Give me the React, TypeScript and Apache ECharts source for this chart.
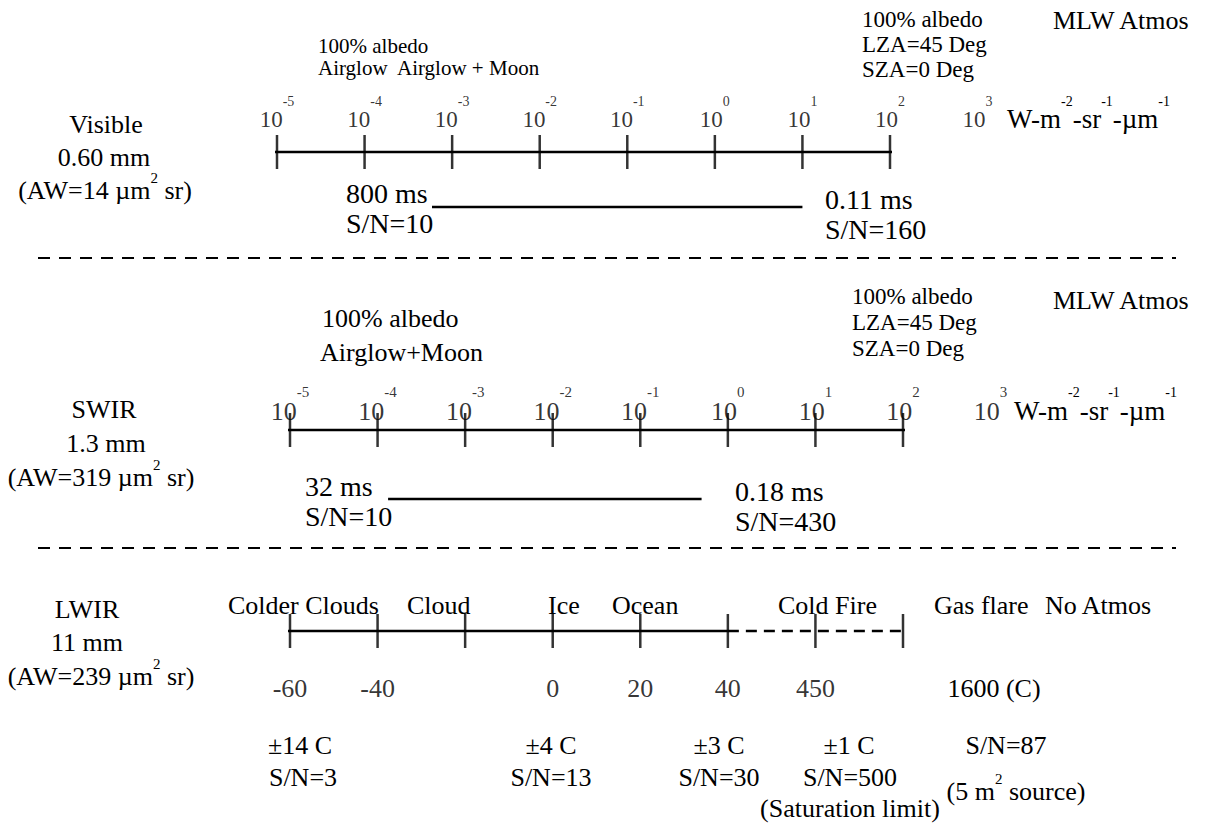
import React, { useEffect, useRef } from 'react';
import * as echarts from 'echarts';

const FONT = 'Liberation Serif, Times New Roman, serif';

// ---- Visible band: radiance decades (10^n W-m-2-sr-1-um-1)
const VIS_LABEL_EXP = [-5, -4, -3, -2, -1, 0, 1, 2, 3];
const VIS_TICK_EXP = [-5, -4, -3, -2, -1, 0, 1, 2];
const VIS_AXIS_RANGE = [-6.08, 3];
const VIS_EXPOSURE = [-3.23, 1.0];

// ---- SWIR band
const SWIR_LABEL_EXP = [-5, -4, -3, -2, -1, 0, 1, 2, 3];
const SWIR_TICK_EXP = [-5, -4, -3, -2, -1, 0, 1, 2];
const SWIR_AXIS_RANGE = [-6.07, 3.03];
const SWIR_EXPOSURE = [-3.88, -0.3];

// ---- LWIR band: scene temperature tick positions
const LWIR_TICK_POS = [0, 1, 2, 3, 4, 5, 6, 7];
const LWIR_TEMP_LABELS = ['-60', '-40', '', '0', '20', '40', '450'];
const LWIR_SOLID_RANGE = [-1.06, 5];
const LWIR_DASHED_RANGE = [5, 8.33];

// layout (pixel rows of the three scales)
const PANEL_Y = [152, 430, 631];
const PANEL_LEFT = [277, 290, 290];
const PANEL_WIDTH = 613;

const txt = (text: string, x: number, y: number, size: number, align: string = 'left') => ({
  type: 'text',
  x,
  y,
  silent: true,
  style: { text, fontSize: size, fontFamily: FONT, fill: '#000', align, verticalAlign: 'middle' },
});

const supTxt = (text: string, x: number, y: number, size: number, supSize: number, d: number, align: string = 'left') => ({
  type: 'text',
  x,
  y,
  silent: true,
  style: {
    text,
    align,
    verticalAlign: 'middle',
    fontFamily: FONT,
    fontSize: size,
    fill: '#000',
    rich: {
      n: { fontSize: size, fontFamily: FONT, fill: '#000', lineHeight: 2 * d + supSize },
      s: { fontSize: supSize, fontFamily: FONT, fill: '#000', verticalAlign: 'top' },
    },
  },
});

const dashLine = (y: number) => ({
  type: 'line',
  silent: true,
  shape: { x1: 38, y1: y, x2: 1176, y2: y },
  style: { stroke: '#000', lineWidth: 2, lineDash: [12, 9] },
});

function axisLine(i: number, range: number[], dashed = false) {
  return {
    type: 'line',
    xAxisIndex: i,
    yAxisIndex: i,
    data: range.map((x) => [x, 0]),
    symbol: 'none',
    clip: false,
    silent: true,
    lineStyle: { color: '#000', width: 2.5, type: dashed ? [11, 7] : 'solid' },
  };
}

function ticks(i: number, xs: number[], h = 34) {
  return {
    type: 'scatter',
    xAxisIndex: i,
    yAxisIndex: i,
    data: xs.map((x) => [x, 0]),
    symbol: 'rect',
    symbolSize: [2.5, h],
    clip: false,
    silent: true,
    itemStyle: { color: '#000' },
  };
}

function decadeLabels(i: number, xs: number[], yOff: number, size: number, supSize: number, d: number) {
  return {
    type: 'scatter',
    xAxisIndex: i,
    yAxisIndex: i,
    data: xs.map((x) => [x, yOff]),
    symbolSize: 1,
    clip: false,
    silent: true,
    itemStyle: { color: 'rgba(0,0,0,0)' },
    label: {
      show: true,
      position: 'inside',
      formatter: (p: any) => `{n|10}{s|${p.value[0]}}`,
      rich: {
        n: { fontSize: size, fontFamily: FONT, color: '#000', lineHeight: 2 * d + supSize },
        s: { fontSize: supSize, fontFamily: FONT, color: '#000', verticalAlign: 'top' },
      },
    },
  };
}

function exposureLine(i: number, range: number[], yOff: number) {
  return {
    type: 'line',
    xAxisIndex: i,
    yAxisIndex: i,
    data: range.map((x) => [x, yOff]),
    symbol: 'none',
    clip: false,
    silent: true,
    lineStyle: { color: '#000', width: 2.5 },
  };
}

export default function App() {
  const ref = useRef<HTMLDivElement>(null);
  useEffect(() => {
    if (!ref.current) return;
    const chart = echarts.init(ref.current, undefined, { renderer: 'svg' });

    const grids = PANEL_Y.map((y, i) => ({
      left: PANEL_LEFT[i],
      width: PANEL_WIDTH,
      top: y - 100,
      height: 200,
    }));
    const xMins = [VIS_TICK_EXP[0], SWIR_TICK_EXP[0], LWIR_TICK_POS[0]];
    const xMaxs = [
      VIS_TICK_EXP[VIS_TICK_EXP.length - 1],
      SWIR_TICK_EXP[SWIR_TICK_EXP.length - 1],
      LWIR_TICK_POS[LWIR_TICK_POS.length - 1],
    ];

    const series: any[] = [
      axisLine(0, VIS_AXIS_RANGE),
      ticks(0, VIS_TICK_EXP),
      decadeLabels(0, VIS_LABEL_EXP, 33, 23, 14, 18),
      exposureLine(0, VIS_EXPOSURE, -55),

      axisLine(1, SWIR_AXIS_RANGE),
      ticks(1, SWIR_TICK_EXP),
      decadeLabels(1, SWIR_LABEL_EXP, 19, 26, 15, 19),
      exposureLine(1, SWIR_EXPOSURE, -69),

      axisLine(2, LWIR_SOLID_RANGE),
      axisLine(2, LWIR_DASHED_RANGE, true),
      ticks(2, LWIR_TICK_POS),
      {
        type: 'scatter',
        xAxisIndex: 2,
        yAxisIndex: 2,
        data: LWIR_TEMP_LABELS.map((_, k) => [LWIR_TICK_POS[k], -57]),
        symbolSize: 1,
        clip: false,
        silent: true,
        itemStyle: { color: 'rgba(0,0,0,0)' },
        label: {
          show: true,
          position: 'inside',
          formatter: (p: any) => LWIR_TEMP_LABELS[p.dataIndex],
          fontSize: 26,
          fontFamily: FONT,
          color: '#000',
        },
      },
    ];

    const graphic: any[] = [
      // Visible panel
      txt('Visible', 106, 124, 26, 'center'),
      txt('0.60 mm', 104, 157, 26, 'center'),
      supTxt('{n|(AW=14 µm}{s|2}{n| sr)}', 105, 190, 26, 15, 12, 'center'),
      txt('100% albedo', 318, 46, 21),
      txt('Airglow', 318, 68, 21),
      txt('Airglow + Moon', 397, 68, 21),
      txt('100% albedo', 862, 19, 23),
      txt('LZA=45 Deg', 862, 44, 23),
      txt('SZA=0 Deg', 862, 69, 23),
      txt('MLW Atmos', 1053, 20, 26),
      supTxt('{n|W-m}{s|-2}{n|-sr}{s|-1}{n|-µm}{s|-1}', 1007, 119, 27, 14, 18),
      txt('800 ms', 346, 193, 28),
      txt('S/N=10', 346, 223, 28),
      txt('0.11 ms', 825, 199, 28),
      txt('S/N=160', 825, 229, 28),
      dashLine(258),

      // SWIR panel
      txt('SWIR', 104, 409, 26, 'center'),
      txt('1.3 mm', 106, 443, 26, 'center'),
      supTxt('{n|(AW=319 µm}{s|2}{n| sr)}', 101, 477, 26, 15, 12, 'center'),
      txt('100% albedo', 322, 318, 26),
      txt('Airglow+Moon', 320, 352, 26),
      txt('100% albedo', 852, 296, 23),
      txt('LZA=45 Deg', 852, 322, 23),
      txt('SZA=0 Deg', 852, 348, 23),
      txt('MLW Atmos', 1053, 300, 26),
      supTxt('{n|W-m}{s|-2}{n|-sr}{s|-1}{n|-µm}{s|-1}', 1014, 411, 27, 14, 19),
      txt('32 ms', 305, 486, 28),
      txt('S/N=10', 305, 516, 28),
      txt('0.18 ms', 735, 491, 28),
      txt('S/N=430', 735, 521, 28),
      dashLine(548),

      // LWIR panel
      txt('LWIR', 87, 609, 26, 'center'),
      txt('11 mm', 87, 642, 26, 'center'),
      supTxt('{n|(AW=239 µm}{s|2}{n| sr)}', 101, 676, 26, 15, 12, 'center'),
      txt('Colder Clouds', 228, 605, 26),
      txt('Cloud', 407, 605, 26),
      txt('Ice', 548, 605, 26),
      txt('Ocean', 612, 605, 26),
      txt('Cold Fire', 778, 605, 26),
      txt('Gas flare', 934, 605, 26),
      txt('No Atmos', 1045, 605, 26),
      txt('1600 (C)', 994, 688, 26, 'center'),
      txt('±14 C', 300, 745, 26, 'center'),
      txt('S/N=3', 303, 777, 26, 'center'),
      txt('±4 C', 551, 745, 26, 'center'),
      txt('S/N=13', 551, 777, 26, 'center'),
      txt('±3 C', 719, 745, 26, 'center'),
      txt('S/N=30', 719, 777, 26, 'center'),
      txt('±1 C', 849, 745, 26, 'center'),
      txt('S/N=500', 850, 777, 26, 'center'),
      txt('(Saturation limit)', 850, 808, 26, 'center'),
      txt('S/N=87', 1006, 745, 26, 'center'),
      supTxt('{n|(5 m}{s|2}{n| source)}', 1016, 791, 26, 15, 12, 'center'),
    ];

    chart.setOption({
      animation: false,
      backgroundColor: '#fff',
      grid: grids,
      xAxis: grids.map((_, i) => ({ type: 'value', gridIndex: i, min: xMins[i], max: xMaxs[i], show: false })),
      yAxis: grids.map((_, i) => ({ type: 'value', gridIndex: i, min: -100, max: 100, show: false })),
      series,
      graphic,
    });
    return () => chart.dispose();
  }, []);
  return <div ref={ref} style={{ position: 'absolute', left: 0, top: 0, width: 1211, height: 826, background: '#fff' }} />;
}
